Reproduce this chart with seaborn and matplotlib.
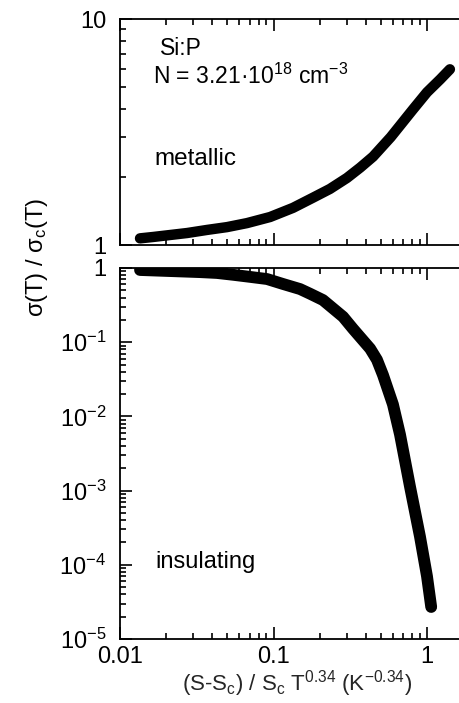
import numpy as np
import pandas as pd
import matplotlib
matplotlib.use("Agg")
import matplotlib.pyplot as plt
import seaborn as sns
from matplotlib.ticker import FixedLocator, FixedFormatter, NullFormatter

# ---------------- data ----------------
met_x = [0.0135, 0.0164, 0.0274, 0.0369, 0.0498, 0.0672, 0.095, 0.134, 0.181,
         0.233, 0.301, 0.367, 0.445, 0.58, 0.81, 1.0, 1.22, 1.41]
met_y = [1.07, 1.085, 1.13, 1.166, 1.20, 1.25, 1.33, 1.46, 1.62,
         1.77, 1.98, 2.20, 2.46, 3.0, 3.98, 4.74, 5.41, 5.99]

ins_x = [0.0135, 0.0332, 0.0428, 0.0545, 0.070, 0.0908, 0.115, 0.149, 0.173,
         0.210, 0.284, 0.33, 0.426, 0.472, 0.517,
         0.60, 0.667, 0.775, 0.90, 1.0, 1.065]
ins_y = [0.94, 0.88, 0.857, 0.81, 0.76, 0.71, 0.61, 0.52, 0.45,
         0.37, 0.22, 0.151, 0.082, 0.058, 0.036,
         0.0145, 0.0057, 1.13e-3, 2.4e-4, 7.0e-5, 2.7e-5]

x_ticks = [0.01, 0.1, 1]
x_ticklabels = ["0.01", "0.1", "1"]
top_yticks = [1, 10]
top_yticklabels = ["1", "10"]
bot_yticks = [1e-5, 1e-4, 1e-3, 1e-2, 1e-1, 1]
bot_yticklabels = [r"$10^{-5}$", r"$10^{-4}$", r"$10^{-3}$", r"$10^{-2}$", r"$10^{-1}$", "1"]

# ---------------- style ----------------
sns.set_theme(style="ticks")
plt.rcParams["font.family"] = ["Liberation Sans", "DejaVu Sans"]
plt.rcParams["mathtext.fontset"] = "custom"
plt.rcParams["mathtext.rm"] = "Liberation Sans"
plt.rcParams["mathtext.it"] = "Liberation Sans:italic"
plt.rcParams["mathtext.bf"] = "Liberation Sans:bold"
plt.rcParams["mathtext.default"] = "regular"

W, H = 459, 703
fig = plt.figure(figsize=(W / 100, H / 100), dpi=100)

left_px, dec_px = 120, 153.5
xmin, xmax = 0.01, 2.0
width_px = dec_px * np.log10(xmax / xmin)

def axes_rect(top_px, bot_px):
    return [left_px / W, 1 - bot_px / H, width_px / W, (bot_px - top_px) / H]

ax_top = fig.add_axes(axes_rect(19, 245))
ax_bot = fig.add_axes(axes_rect(268, 639))

df_met = pd.DataFrame({"x": met_x, "y": met_y})
df_ins = pd.DataFrame({"x": ins_x, "y": ins_y})

line_kw = dict(color="black", solid_capstyle="round",
               solid_joinstyle="round", legend=False, sort=False)
sns.lineplot(data=df_met, x="x", y="y", ax=ax_top, linewidth=7.5, **line_kw)
sns.lineplot(data=df_ins, x="x", y="y", ax=ax_bot, linewidth=8.5, **line_kw)

minor_x = [m * 10.0 ** e for e in range(-2, 1) for m in range(2, 10)]

FS = 17
for ax in (ax_top, ax_bot):
    ax.set_xscale("log")
    ax.set_yscale("log")
    ax.set_xlim(xmin, xmax)
    ax.xaxis.set_major_locator(FixedLocator(x_ticks))
    ax.xaxis.set_minor_locator(FixedLocator(minor_x))
    ax.xaxis.set_minor_formatter(NullFormatter())
    ax.set_xlabel("")
    ax.set_ylabel("")
    for s in ax.spines.values():
        s.set_linewidth(1.3)
        s.set_color("black")
    ax.tick_params(which="both", direction="in", top=True, right=True,
                   colors="black", labelsize=FS, width=1.2)
    ax.tick_params(which="major", length=8.5)
    ax.tick_params(which="minor", length=4.5)
    ax.tick_params(axis="y", pad=10)
    ax.tick_params(axis="x", pad=5)
    ax.grid(False)

ax_top.set_ylim(1, 10)
ax_top.yaxis.set_major_locator(FixedLocator(top_yticks))
ax_top.yaxis.set_major_formatter(FixedFormatter(top_yticklabels))
ax_top.yaxis.set_minor_locator(FixedLocator(list(range(2, 10))))
ax_top.yaxis.set_minor_formatter(NullFormatter())
ax_top.xaxis.set_major_formatter(NullFormatter())

ax_bot.set_ylim(1e-5, 1)
ax_bot.yaxis.set_major_locator(FixedLocator(bot_yticks))
ax_bot.yaxis.set_major_formatter(FixedFormatter(bot_yticklabels))
minor_y = [m * 10.0 ** e for e in range(-5, 0) for m in range(2, 10)]
ax_bot.yaxis.set_minor_locator(FixedLocator(minor_y))
ax_bot.yaxis.set_minor_formatter(NullFormatter())
ax_bot.xaxis.set_major_formatter(FixedFormatter(x_ticklabels))

ax_bot.set_xlabel(r"(S-S$_{c}$) / S$_{c}$ T$^{0.34}$ (K$^{-0.34}$)", fontsize=16, labelpad=0)

def ftext(xp, yp, s, fs=FS, **kw):
    fig.text(xp / W, 1 - yp / H, s, fontsize=fs, color="black", **kw)

ftext(37, 258, r"σ(T) / σ$_{c}$(T)", fs=17, rotation=90, ha="center", va="center")
ftext(160, 55, "Si:P", fs=16.5, ha="left", va="baseline")
ftext(153, 84, r"N = 3.21·10$^{18}$ cm$^{-3}$", fs=16.5, ha="left", va="baseline")
ftext(154, 165, "metallic", fs=17.5, ha="left", va="baseline")
ftext(155, 568, "insulating", fs=17, ha="left", va="baseline")

fig.savefig("out.png", dpi=100)
